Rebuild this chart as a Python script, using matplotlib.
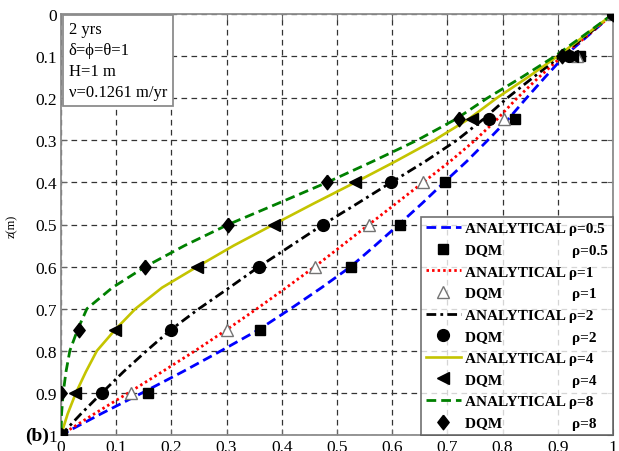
import matplotlib
matplotlib.use("Agg")
import matplotlib.pyplot as plt
import numpy as np

# Depth grid of the analytical profiles
z_an = [0, 0.05, 0.1, 0.15, 0.2, 0.25, 0.3, 0.35, 0.4, 0.45, 0.5,
        0.55, 0.6, 0.65, 0.7, 0.75, 0.8, 0.85, 0.9, 0.95, 1.0]
an_05 = [1.0, 0.956, 0.912, 0.877, 0.843, 0.81, 0.773, 0.735, 0.694, 0.654, 0.612,
         0.569, 0.525, 0.472, 0.416, 0.358, 0.29, 0.22, 0.147, 0.072, 0.0]
an_1 = [1.0, 0.955, 0.908, 0.866, 0.826, 0.79, 0.75, 0.705, 0.656, 0.607, 0.558,
        0.509, 0.46, 0.408, 0.355, 0.30, 0.243, 0.183, 0.122, 0.06, 0.0]
an_2 = [1.0, 0.953, 0.905, 0.856, 0.808, 0.765, 0.717, 0.66, 0.598, 0.537, 0.475,
        0.417, 0.359, 0.305, 0.25, 0.199, 0.155, 0.113, 0.074, 0.036, 0.0]
an_4 = [1.0, 0.95, 0.9, 0.846, 0.789, 0.738, 0.676, 0.606, 0.533, 0.458, 0.385,
        0.313, 0.247, 0.183, 0.135, 0.098, 0.065, 0.045, 0.027, 0.012, 0.0]
an_8 = [1.0, 0.948, 0.895, 0.835, 0.772, 0.715, 0.645, 0.565, 0.482, 0.393, 0.303,
        0.224, 0.153, 0.093, 0.047, 0.03, 0.016, 0.009, 0.004, 0.001, 0.0]

# DQM solution nodes
z_dqm = [0, 0.1, 0.25, 0.4, 0.5, 0.6, 0.75, 0.9, 1.0]
dqm_05 = [1.0, 0.94, 0.822, 0.696, 0.614, 0.525, 0.36, 0.157, 0.0]
dqm_1 = [1.0, 0.935, 0.803, 0.656, 0.558, 0.46, 0.30, 0.127, 0.0]
dqm_2 = [1.0, 0.92, 0.775, 0.598, 0.475, 0.359, 0.199, 0.074, 0.0]
dqm_4 = [1.0, 0.925, 0.745, 0.533, 0.385, 0.247, 0.098, 0.025, 0.0]
dqm_8 = [1.0, 0.907, 0.721, 0.482, 0.303, 0.153, 0.033, 0.0, 0.0]

rho_labels = ["0.5", "1", "2", "4", "8"]
ticks = [0, 0.1, 0.2, 0.3, 0.4, 0.5, 0.6, 0.7, 0.8, 0.9, 1]
tick_labels = ["0", "0.1", "0.2", "0.3", "0.4", "0.5", "0.6", "0.7", "0.8", "0.9", "1"]

serif = ["Liberation Serif", "DejaVu Serif"]
plt.rcParams["font.family"] = serif

fig = plt.figure(figsize=(6.19, 4.52), dpi=100)
ax = fig.add_axes([61 / 619, 1 - 436 / 452, 552 / 619, 421 / 452])

# slightly tall diamond, like the classic 'd' symbol of MATLAB
diamond = [(0, 1), (0.78, 0), (0, -1), (-0.78, 0), (0, 1)]

analytical = [an_05, an_1, an_2, an_4, an_8]
dqm = [dqm_05, dqm_1, dqm_2, dqm_4, dqm_8]
line_styles = [
    dict(color="#0000ff", linestyle=(0, (3.5, 1.8)), lw=2.0),
    dict(color="#ff0000", linestyle=(0, (0.9, 1.1)), lw=2.0),
    dict(color="#000000", linestyle=(0, (3.5, 1.5, 1.0, 1.5)), lw=2.0),
    dict(color="#c4c400", linestyle="-", lw=1.9),
    dict(color="#008000", linestyle=(0, (3.5, 1.8)), lw=2.0),
]
marker_styles = [
    dict(marker="s", ms=7.5, mfc="black", mec="black"),
    dict(marker="^", ms=8.5, mfc="white", mec="0.45", mew=1.0),
    dict(marker="o", ms=8.5, mfc="black", mec="black"),
    dict(marker="<", ms=8.5, mfc="black", mec="black"),
    dict(marker=diamond, ms=10.5, mfc="black", mec="black"),
]

handles = []
labels = []
for rho, an, dq, ls, ms in zip(rho_labels, analytical, dqm, line_styles, marker_styles):
    h1, = ax.plot(an, z_an, zorder=3, **ls)
    h2, = ax.plot(dq, z_dqm, linestyle="none", zorder=4, **ms)
    handles += [h1, h2]
    labels += ["ANALYTICAL ρ=" + rho, "DQM" + " " * 18 + "ρ=" + rho]

ax.set_xlim(0, 1)
ax.set_ylim(1, 0)
ax.set_xticks(ticks)
ax.set_yticks(ticks)
ax.set_xticklabels(tick_labels)
ax.set_yticklabels(tick_labels)
ax.tick_params(direction="in", length=4, labelsize=12.5, top=True, right=True,
               color="0.4", pad=3)
ax.grid(True, color="0.2", linestyle=(0, (4.5, 3.5)), lw=0.9)
for sp in ax.spines.values():
    sp.set_color("0.55")
    sp.set_linewidth(1.3)

ax.text(0.014, 0.983,
        "2 yrs\nδ=ϕ=θ=1\nH=1 m\nν=0.1261 m/yr",
        transform=ax.transAxes, ha="left", va="top", fontsize=12,
        family=serif, linespacing=1.42, zorder=6,
        bbox=dict(boxstyle="square,pad=0.35", fc="white", ec="0.55", lw=1.3))

leg = ax.legend(handles, labels, loc="lower right",
                prop=dict(family=serif, weight="bold", size=11),
                frameon=True, fancybox=False, edgecolor="0.3",
                borderpad=0.32, labelspacing=0.52, handlelength=2.3,
                handletextpad=0.3, borderaxespad=0.0)
leg.get_frame().set_linewidth(1.2)
leg.set_zorder(7)

fig.text(12 / 619, 1 - 226 / 452, "z(m)", rotation=90, ha="center", va="center",
         fontsize=9, family=serif)
fig.text(37 / 619, 1 - 436 / 452, "(b)", ha="center", va="center",
         fontsize=14, weight="bold", family=serif,
         bbox=dict(boxstyle="square,pad=0.08", fc="white", ec="none"))

fig.savefig("out.png", dpi=100)
